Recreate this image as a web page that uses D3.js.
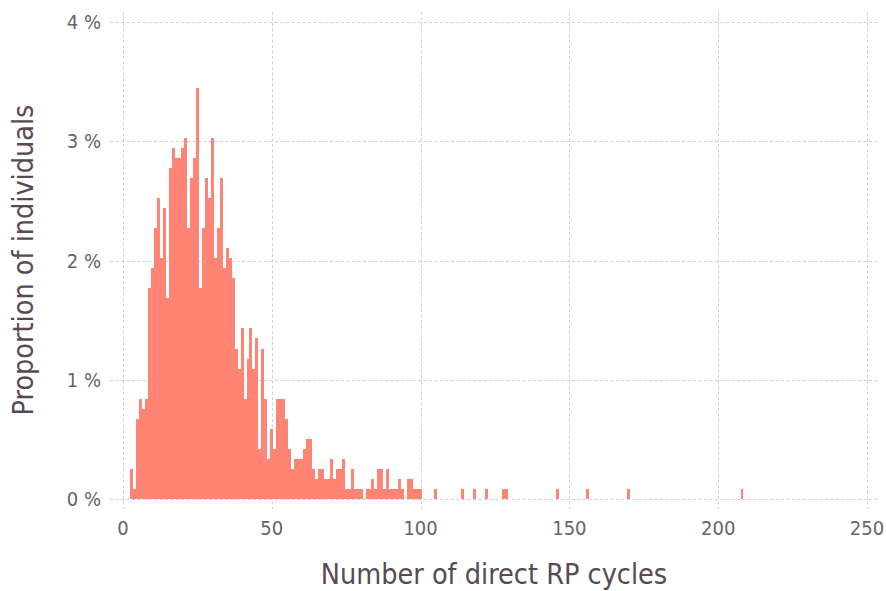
<!DOCTYPE html>
<html>
<head>
<meta charset="utf-8">
<script src="https://cdn.jsdelivr.net/npm/d3@7"></script>
<style>
  html, body { margin: 0; padding: 0; background: #ffffff; }
  svg { display: block; }
  text { font-family: "DejaVu Sans Condensed", "DejaVu Sans", sans-serif; font-stretch: condensed; }
</style>
</head>
<body>
<svg id="chart" width="886" height="591"></svg>
<script>
// Bin centres (number of direct RP cycles), bins of width 1
const cycles = [
  3, 4, 5, 6, 7, 8, 9, 10, 11, 12, 13, 14, 15, 16, 17, 18, 19, 20, 21, 22, 23, 24, 25,
  26, 27, 28, 29, 30, 31, 32, 33, 34, 35, 36, 37, 38, 39, 40, 41, 42, 43, 44, 45, 46, 47, 48, 49,
  50, 51, 52, 53, 54, 55, 56, 57, 58, 59, 60, 61, 62, 63, 64, 65, 66, 67, 68, 69, 70,
  71, 72, 73, 74, 75, 76, 77, 78, 79, 80, 82, 83, 84, 85, 86, 87, 88, 89, 90,
  91, 92, 93, 94, 96, 97, 98, 99, 100, 105, 114, 118, 122, 128, 129, 146, 156, 170, 208
];
// Proportion of individuals (%)
const proportion = [
  0.252, 0.084, 0.673, 0.841, 0.757, 0.841, 1.766, 1.934, 2.271, 2.523, 2.018, 2.439, 1.682, 2.775, 2.944, 2.859, 2.859, 2.944, 3.028, 2.271, 2.691, 2.859, 3.448,
  1.766, 2.271, 2.691, 2.523, 3.028, 2.018, 2.271, 2.691, 1.934, 2.103, 2.018, 1.850, 1.262, 1.093, 1.430, 0.841, 1.177, 1.430, 1.093, 1.346, 0.420, 1.262, 0.841, 0.336,
  0.589, 0.420, 0.841, 0.841, 0.841, 0.673, 0.420, 0.252, 0.336, 0.336, 0.336, 0.420, 0.505, 0.505, 0.252, 0.168, 0.252, 0.252, 0.168, 0.168, 0.336,
  0.168, 0.252, 0.252, 0.336, 0.084, 0.084, 0.252, 0.084, 0.084, 0.084, 0.084, 0.084, 0.168, 0.084, 0.252, 0.252, 0.084, 0.252, 0.084,
  0.084, 0.084, 0.168, 0.084, 0.168, 0.168, 0.084, 0.084, 0.084, 0.084, 0.084, 0.084, 0.084, 0.084, 0.084, 0.084, 0.084, 0.084, 0.084
];
const xTicks = [0, 50, 100, 150, 200, 250];
const yTicks = [0, 1, 2, 3, 4];
const xTitle = "Number of direct RP cycles";
const yTitle = "Proportion of individuals";

const svg = d3.select("#chart");
const x = d3.scaleLinear().domain([0, 250]).range([123, 867]);
const y = d3.scaleLinear().domain([0, 4]).range([499, 22]);

const gridColor = "#cdcde0";
const dash = "3,2.5";
const snap = v => Math.round(v) + 0.5;

// horizontal grid lines
svg.append("g").selectAll("line").data(yTicks).join("line")
  .attr("x1", 110).attr("x2", 880)
  .attr("y1", d => snap(y(d))).attr("y2", d => snap(y(d)))
  .attr("stroke", gridColor).attr("stroke-width", 1).attr("stroke-dasharray", dash);

// vertical grid lines
svg.append("g").selectAll("line").data(xTicks).join("line")
  .attr("x1", d => snap(x(d))).attr("x2", d => snap(x(d)))
  .attr("y1", 12).attr("y2", 509)
  .attr("stroke", gridColor).attr("stroke-width", 1).attr("stroke-dasharray", dash);

// bars
const data = cycles.map((c, i) => ({ c, p: proportion[i] }));
svg.append("g").selectAll("rect").data(data).join("rect")
  .attr("x", d => x(d.c - 0.5))
  .attr("width", d => x(d.c + 0.5) - x(d.c - 0.5))
  .attr("y", d => y(d.p))
  .attr("height", d => y(0) - y(d.p))
  .attr("fill", "#ff8474")
  .attr("shape-rendering", "crispEdges");

// x tick labels
svg.append("g").selectAll("text").data(xTicks).join("text")
  .attr("x", d => x(d)).attr("y", 535)
  .attr("text-anchor", "middle")
  .attr("font-size", 20)
  .attr("fill", "#6c606b")
  .text(d => d);

// y tick labels
svg.append("g").selectAll("text").data(yTicks).join("text")
  .attr("x", 101).attr("y", d => y(d))
  .attr("dy", "0.35em")
  .attr("text-anchor", "end")
  .attr("font-size", 20)
  .attr("fill", "#6c606b")
  .text(d => d + " %");

// axis titles
svg.append("text")
  .attr("x", 494).attr("y", 584)
  .attr("text-anchor", "middle")
  .attr("font-size", 28.5)
  .attr("fill", "#564a55")
  .text(xTitle);

svg.append("text")
  .attr("transform", "translate(33,260) rotate(-90)")
  .attr("text-anchor", "middle")
  .attr("font-size", 28.5)
  .attr("fill", "#564a55")
  .text(yTitle);
</script>
</body>
</html>
